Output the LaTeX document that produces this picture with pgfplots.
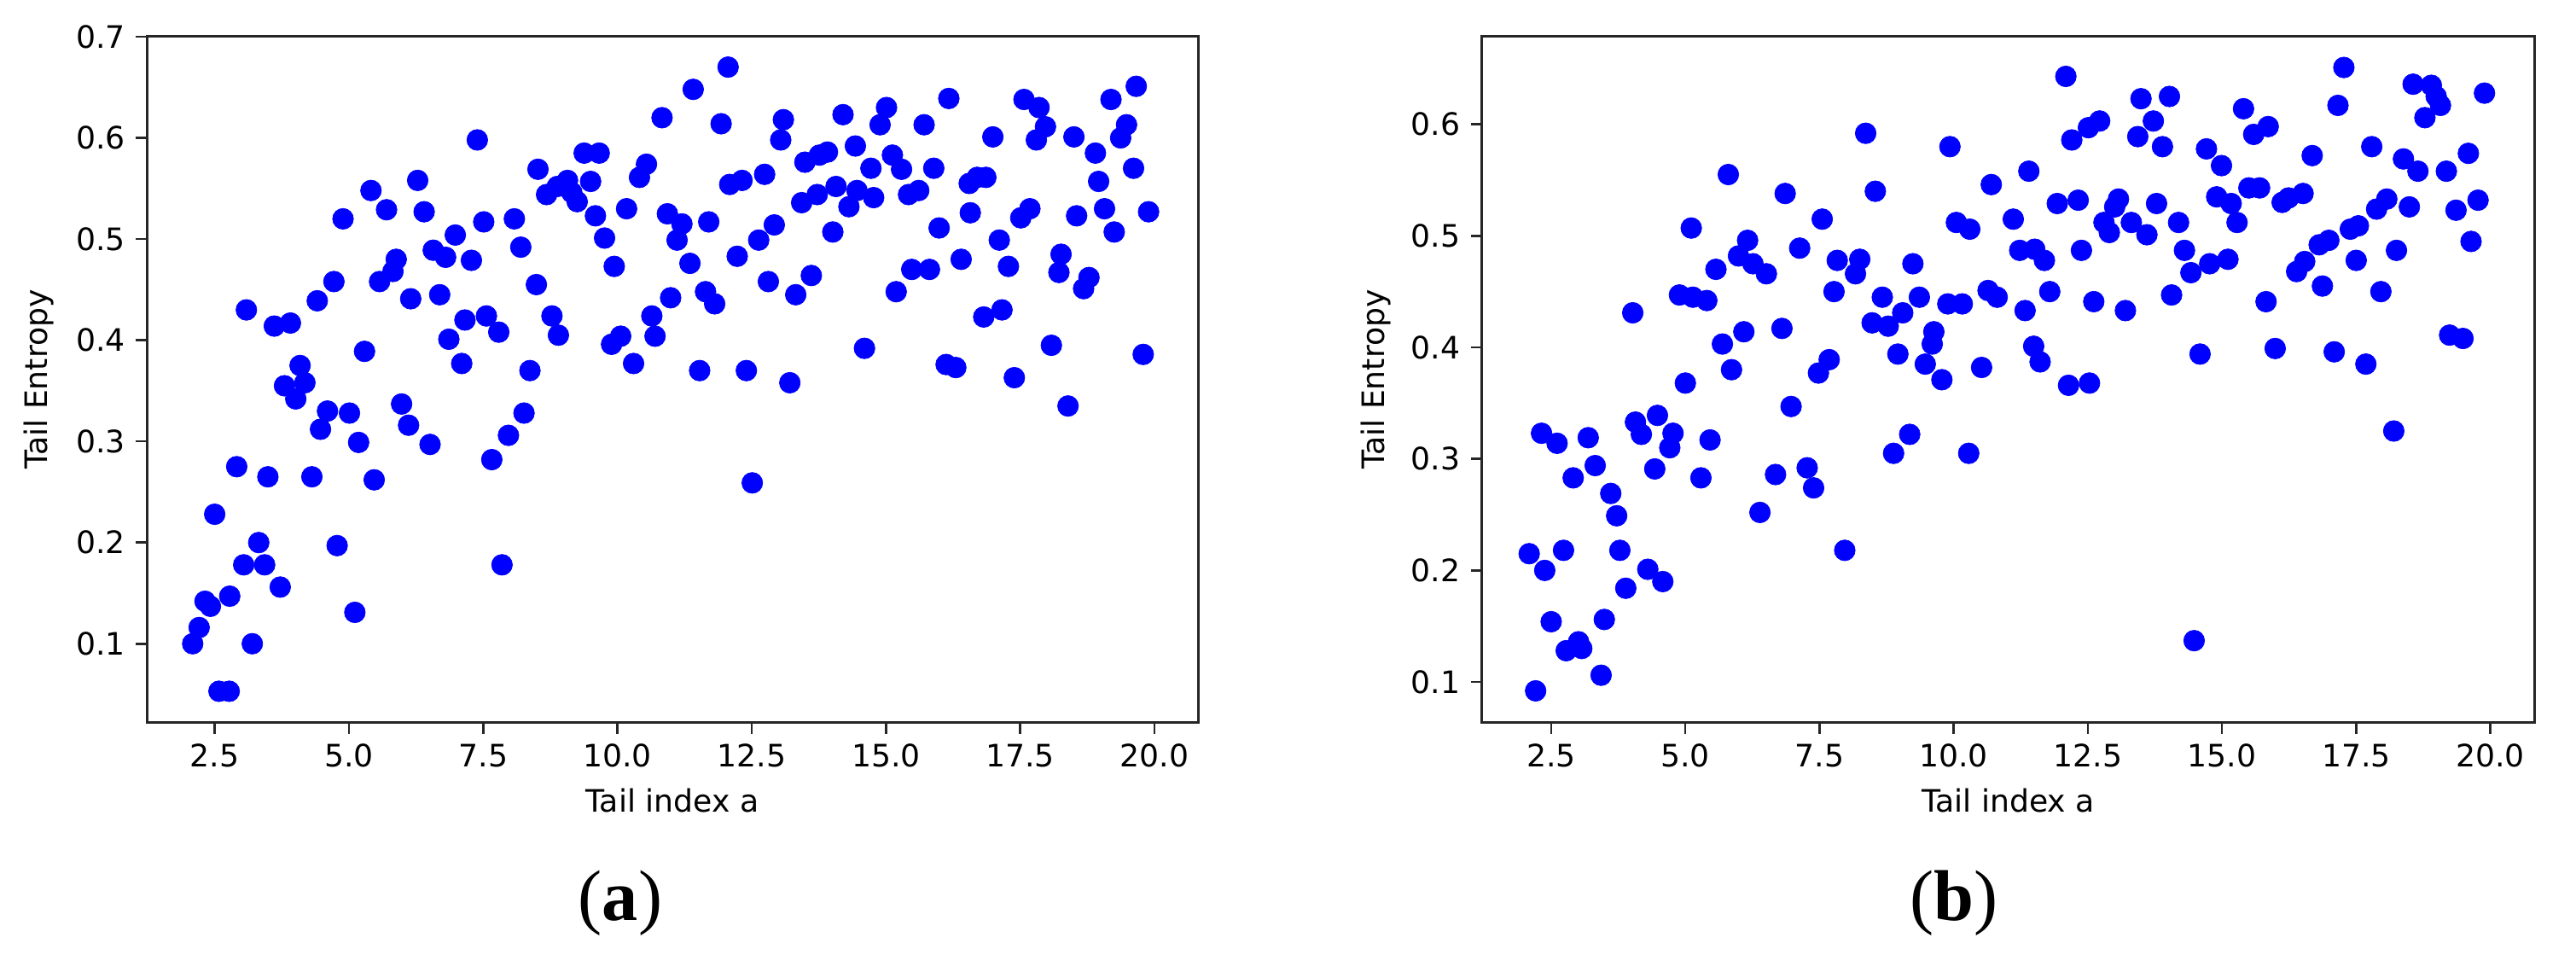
\documentclass[border=0pt]{standalone}
\usepackage{pgfplots}
\pgfplotsset{compat=1.18}
\usepackage{fontspec}
\setmainfont{DejaVu Sans}
\newfontfamily\capfont{Liberation Serif}
\definecolor{mplblue}{RGB}{0,0,255}
\pgfplotsset{
  myax/.style={
    scale only axis, width=12.32cm, height=8.042cm,
    axis line style={black!85, line width=0.03cm},
    tick align=outside, major tick length=0.13cm,
    xtick pos=bottom, ytick pos=left,
    every tick/.style={black!85, line width=0.025cm},
    xtick={2.5,5,7.5,10,12.5,15,17.5,20},
    xticklabel={\pgfmathprintnumber[fixed,fixed zerofill,precision=1]{\tick}},
    yticklabel={\pgfmathprintnumber[fixed,fixed zerofill,precision=1]{\tick}},
    /pgf/number format/assume math mode=true,
    tick label style={font=\fontsize{10.3}{12}\selectfont, black},
    label style={font=\fontsize{10.3}{12}\selectfont, black},
    xlabel={Tail index a}, ylabel={Tail Entropy},
    xlabel style={at={(axis description cs:0.5,-0.1135)}, anchor=center},
    minor tick num=0,
  },
  dots/.style={only marks, mark=*, mark size=0.122cm, mark options={fill=mplblue, draw=mplblue, line width=0.2pt}},
}
\begin{document}
\begin{tikzpicture}
\useasboundingbox (0,0) rectangle (30.19,11.25);
\begin{axis}[myax, at={(1.72cm,2.783cm)}, anchor=south west,
  xmin=1.235, xmax=20.81, ymin=0.022, ymax=0.7005,
  ytick={0.1,0.2,0.3,0.4,0.5,0.6,0.7},
  ylabel style={at={(axis description cs:-0.1023,0.5)}, anchor=center}]
\addplot[dots] coordinates {
(3.09,0.430)(3.61,0.414)(3.91,0.417)(4.41,0.439)(4.72,0.458)(4.89,0.520)(5.41,0.548)(5.70,0.529)
(5.57,0.458)(5.82,0.468)(5.88,0.480)(5.29,0.389)(6.15,0.441)(6.28,0.558)(6.40,0.527)(6.57,0.489)
(6.80,0.482)(6.69,0.445)(6.98,0.504)(7.28,0.479)(7.39,0.598)(7.51,0.517)(6.86,0.401)(7.16,0.420)
(7.56,0.424)(7.79,0.408)(7.10,0.377)(8.08,0.520)(8.20,0.492)(8.49,0.455)(8.37,0.370)(8.78,0.424)
(8.90,0.405)(8.52,0.569)(8.68,0.544)(8.88,0.552)(9.07,0.558)(9.15,0.546)(9.25,0.537)(9.50,0.557)
(9.38,0.585)(9.66,0.585)(9.59,0.523)(9.76,0.501)(9.94,0.473)(10.17,0.530)(9.89,0.396)(10.06,0.404)
(10.30,0.377)(3.80,0.355)(4.09,0.375)(4.18,0.358)(4.01,0.342)
(4.60,0.330)(5.01,0.328)(4.47,0.312)(5.18,0.299)(5.98,0.337)(6.11,0.316)(6.51,0.297)(7.66,0.282)
(7.97,0.306)(8.26,0.328)(2.91,0.275)(3.49,0.265)(4.31,0.265)(5.47,0.262)(2.50,0.228)(3.32,0.200)
(3.04,0.178)(3.43,0.178)(4.78,0.197)(7.85,0.178)(3.72,0.156)(2.78,0.147)(2.32,0.142)(2.42,0.137)
(2.21,0.116)(2.09,0.100)(3.20,0.100)(5.11,0.131)(2.58,0.053)(2.77,0.053)
(12.06,0.670)(11.41,0.648)(10.83,0.620)(11.93,0.614)(13.09,0.618)(13.04,0.598)(14.20,0.623)(15.01,0.630)
(14.89,0.613)(15.71,0.613)(16.17,0.639)(17.57,0.638)(17.85,0.630)(17.97,0.611)(17.80,0.598)(16.99,0.601)
(18.50,0.601)(19.19,0.638)(19.66,0.651)(19.48,0.613)(19.37,0.600)(18.90,0.585)(19.61,0.570)(18.96,0.557)
(19.07,0.530)(19.89,0.527)(19.25,0.507)(18.55,0.523)(10.54,0.574)(10.41,0.561)(10.93,0.525)(11.20,0.515)
(11.11,0.499)(11.70,0.517)(11.35,0.476)(12.09,0.554)(12.32,0.558)(12.74,0.564)(12.23,0.483)(12.63,0.499)
(12.92,0.514)(13.49,0.576)(13.76,0.583)(13.91,0.586)(14.43,0.592)(14.72,0.570)(15.12,0.583)(15.29,0.569)
(15.89,0.570)(13.43,0.536)(13.72,0.544)(14.07,0.552)(14.46,0.548)(14.77,0.541)(14.31,0.532)(15.42,0.544)
(15.61,0.548)(14.01,0.507)(15.99,0.511)(16.55,0.555)(16.70,0.561)(16.86,0.561)(16.57,0.526)(17.51,0.521)
(17.68,0.530)(17.11,0.499)(17.28,0.473)(18.26,0.485)(18.22,0.467)(18.78,0.462)(18.68,0.451)(16.40,0.480)
(15.81,0.470)(15.48,0.470)(15.19,0.448)(16.82,0.423)(17.16,0.430)(18.08,0.395)(19.79,0.386)(14.60,0.392)
(16.12,0.376)(16.30,0.373)(17.39,0.363)(18.39,0.335)(13.21,0.358)(12.40,0.370)(11.53,0.370)(10.70,0.404)
(10.64,0.424)(10.99,0.442)(11.64,0.448)(11.81,0.436)(12.81,0.458)(13.32,0.445)(13.61,0.464)(12.51,0.259)
};
\end{axis}
\begin{axis}[myax, at={(17.366cm,2.783cm)}, anchor=south west, width=12.336cm,
  xmin=1.207, xmax=20.82, ymin=0.0635, ymax=0.679,
  ytick={0.1,0.2,0.3,0.4,0.5,0.6},
  ylabel style={at={(axis description cs:-0.1002,0.5)}, anchor=center}]
\addplot[dots] coordinates {
(4.02,0.431)(4.89,0.447)(5.14,0.445)(5.40,0.442)(5.11,0.507)(5.57,0.470)(5.80,0.555)(6.16,0.496)
(5.99,0.482)(6.26,0.475)(6.51,0.466)(6.86,0.538)(7.13,0.489)(7.55,0.515)(7.83,0.478)(8.17,0.466)
(8.25,0.479)(8.36,0.592)(8.54,0.540)(9.24,0.475)(9.93,0.580)(7.77,0.450)(8.67,0.445)(9.36,0.445)
(9.89,0.439)(10.16,0.439)(10.05,0.512)(10.30,0.506)(8.48,0.422)(8.78,0.419)(9.05,0.431)(9.63,0.414)
(9.60,0.403)(9.47,0.385)(9.78,0.371)(8.96,0.394)(6.09,0.414)(6.80,0.417)(5.69,0.403)(5.86,0.380)
(5.00,0.368)(7.48,0.377)(7.68,0.389)(6.97,0.347)
(4.48,0.339)(4.07,0.333)(4.18,0.322)(2.32,0.323)(2.61,0.314)(3.19,0.319)(4.77,0.323)(4.71,0.310)
(5.46,0.317)(3.32,0.294)(2.91,0.283)(4.43,0.291)(5.29,0.283)(3.61,0.269)(3.72,0.249)(6.68,0.286)
(7.27,0.292)(7.39,0.274)(6.39,0.252)(8.88,0.305)(9.18,0.322)(10.28,0.305)(2.09,0.215)(2.38,0.200)
(2.73,0.218)(3.78,0.218)(4.30,0.201)(4.58,0.190)(3.89,0.184)(7.97,0.218)(2.50,0.154)(3.49,0.156)
(2.78,0.128)(3.01,0.136)(3.07,0.130)(3.43,0.106)(2.21,0.092)
(12.09,0.643)(13.49,0.623)(14.02,0.625)(12.72,0.603)(12.51,0.597)(12.20,0.586)(13.72,0.603)(13.43,0.589)
(13.89,0.580)(15.40,0.614)(15.86,0.598)(15.59,0.591)(14.71,0.578)(14.99,0.563)(16.68,0.572)(17.27,0.651)
(17.16,0.617)(17.79,0.580)(18.56,0.636)(18.90,0.635)(18.99,0.625)(19.07,0.617)(18.78,0.606)(19.89,0.628)
(18.38,0.569)(18.65,0.558)(19.18,0.558)(19.59,0.574)(10.70,0.546)(11.40,0.558)(11.11,0.515)(11.93,0.529)
(12.32,0.532)(13.07,0.533)(13.00,0.526)(12.80,0.512)(12.90,0.503)(13.31,0.512)(13.60,0.501)(13.78,0.529)
(14.19,0.512)(14.90,0.535)(15.17,0.529)(15.28,0.512)(15.50,0.543)(15.70,0.543)(16.12,0.530)(16.24,0.534)
(16.51,0.538)(18.07,0.533)(17.88,0.524)(18.49,0.526)(19.36,0.523)(19.77,0.532)(17.54,0.509)(17.39,0.506)
(16.99,0.496)(16.81,0.492)(19.64,0.495)(18.25,0.487)(17.50,0.478)(16.54,0.477)(16.39,0.468)(16.87,0.455)
(17.96,0.450)(15.82,0.441)(14.06,0.447)(13.20,0.433)(12.61,0.441)(11.79,0.450)(11.33,0.433)(10.64,0.451)
(10.81,0.445)(12.38,0.487)(11.23,0.487)(11.51,0.488)(11.69,0.478)(14.30,0.487)(14.42,0.467)(14.77,0.475)
(15.11,0.479)(10.52,0.382)(11.49,0.401)(11.61,0.387)(12.14,0.366)(12.53,0.368)(14.59,0.394)(15.99,0.399)
(17.09,0.396)(17.68,0.385)(19.24,0.411)(19.49,0.408)(18.20,0.325)(14.48,0.137)
};
\end{axis}
\node[font=\capfont\fontsize{24}{28}\selectfont, inner sep=0pt] at (7.27,0.67) {(\textbf{a})};
\node[font=\capfont\fontsize{24}{28}\selectfont, inner sep=0pt] at (22.90,0.67) {(\textbf{b})};
\end{tikzpicture}
\end{document}
